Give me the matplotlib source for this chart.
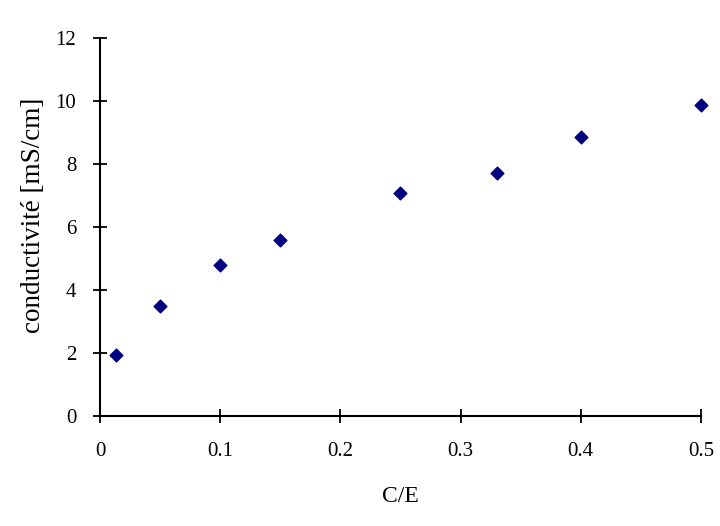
import matplotlib
matplotlib.use("Agg")
import matplotlib.pyplot as plt

plt.rcParams['font.family'] = ['Liberation Serif', 'DejaVu Serif']

# données
ce = [0.0133, 0.05, 0.1, 0.15, 0.25, 0.33, 0.4, 0.5]
conductivite = [1.94, 3.49, 4.79, 5.59, 7.08, 7.71, 8.86, 9.87]
xticks = [0, 0.1, 0.2, 0.3, 0.4, 0.5]
xtick_labels = ['0', '0.1', '0.2', '0.3', '0.4', '0.5']
yticks = [0, 2, 4, 6, 8, 10, 12]

fig = plt.figure(figsize=(7.2, 5.26), dpi=100)
ax = fig.add_axes([0.1389, 0.2091, 0.8347, 0.7187])

ax.scatter(ce, conductivite, marker='D', s=42, color='#000080', zorder=3, clip_on=False)

ax.set_xlim(0, 0.5)
ax.set_ylim(0, 12)
ax.set_xticks(xticks)
ax.set_xticklabels(xtick_labels)
ax.set_yticks(yticks)

for s in ['top', 'right']:
    ax.spines[s].set_visible(False)
for s in ['left', 'bottom']:
    ax.spines[s].set_linewidth(1.5)
    ax.spines[s].set_clip_on(False)

ax.tick_params(direction='inout', length=10, width=1.3, labelsize=15)
ax.tick_params(axis='x', pad=14)
ax.tick_params(axis='y', pad=12)
ax.set_xlabel('C/E', fontsize=17, labelpad=18)
ax.set_ylabel('conductivité [mS/cm]', fontsize=19.5)
ax.yaxis.set_label_coords(-0.09, 0.53)

fig.savefig('out.png', dpi=100)
